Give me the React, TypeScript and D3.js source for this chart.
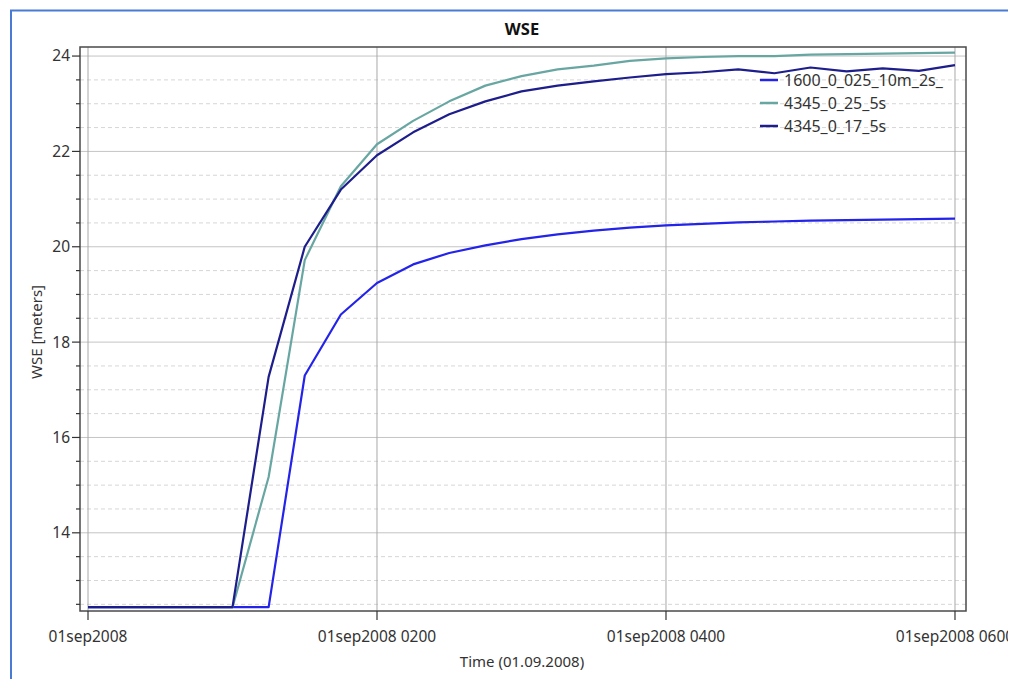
import {useEffect, useRef} from 'react';
import * as d3 from 'd3';

// time in hours after 01sep2008 00:00, 15 min steps
const timeHours = [
  0, 0.25, 0.5, 0.75, 1, 1.25, 1.5, 1.75, 2, 2.25, 2.5, 2.75, 3, 3.25, 3.5, 3.75, 4, 4.25, 4.5, 4.75, 5,
  5.25, 5.5, 5.75, 6,
];

const wse1600 = [
  12.44, 12.44, 12.44, 12.44, 12.44, 12.44, 17.3, 18.58, 19.24, 19.63, 19.87, 20.03, 20.16, 20.26, 20.34,
  20.4, 20.45, 20.48, 20.51, 20.53, 20.55, 20.56, 20.57, 20.58, 20.59,
];
const wse4345_25 = [
  12.44, 12.44, 12.44, 12.44, 12.44, 15.17, 19.72, 21.27, 22.15, 22.64, 23.05, 23.38, 23.58, 23.72, 23.8,
  23.9, 23.95, 23.98, 24.0, 24.0, 24.03, 24.04, 24.05, 24.06, 24.07,
];
const wse4345_17 = [
  12.44, 12.44, 12.44, 12.44, 12.44, 17.27, 20.0, 21.2, 21.92, 22.4, 22.78, 23.05, 23.26, 23.38, 23.47,
  23.55, 23.62, 23.66, 23.72, 23.64, 23.76, 23.68, 23.74, 23.69, 23.81,
];

const seriesNames = ['1600_0_025_10m_2s_', '4345_0_25_5s', '4345_0_17_5s'];
const seriesColors = ['#2323ea', '#68a6a2', '#1d1d8c'];

const yMajorTicks = [14, 16, 18, 20, 22, 24];
const xTicks = [0, 2, 4, 6];
const xTickLabels = ['01sep2008', '01sep2008 0200', '01sep2008 0400', '01sep2008 0600'];

const W = 1012;
const H = 679;
const plot = {left: 80, top: 47, right: 966, bottom: 611};
const FONT = '"Noto Sans", "Open Sans", sans-serif';

const App = () => {
  const ref = useRef<SVGSVGElement>(null);

  useEffect(() => {
    const svg = d3.select(ref.current);
    svg.selectAll('*').remove();

    const x = d3.scaleLinear().domain([-0.0554, 6.0762]).range([plot.left, plot.right]);
    const y = d3.scaleLinear().domain([12.36, 24.19]).range([plot.bottom, plot.top]);

    svg
      .append('defs')
      .append('clipPath')
      .attr('id', 'pageClip')
      .append('rect')
      .attr('x', 0)
      .attr('y', 0)
      .attr('width', 1008)
      .attr('height', H);

    const root = svg.append('g').attr('clip-path', 'url(#pageClip)');

    // outer frame (blue)
    root
      .append('path')
      .attr('d', `M11,${H} L11,10.5 L${W},10.5`)
      .attr('fill', 'none')
      .attr('stroke', '#4a7bd4')
      .attr('stroke-width', 2);

    // title
    root
      .append('text')
      .attr('x', 522)
      .attr('y', 35)
      .attr('text-anchor', 'middle')
      .attr('font-family', FONT)
      .attr('font-weight', 'bold')
      .attr('font-size', 16.5)
      .attr('fill', '#111')
      .text('WSE');

    const minorTicks = d3.range(12.5, 24.01, 0.5).filter((v) => v % 2 !== 0);

    // grid
    const grid = root.append('g');
    grid
      .selectAll('line.minor')
      .data(minorTicks)
      .enter()
      .append('line')
      .attr('x1', plot.left)
      .attr('x2', plot.right)
      .attr('y1', (d) => y(d))
      .attr('y2', (d) => y(d))
      .attr('stroke', '#d6d6d6')
      .attr('stroke-dasharray', '4,3');

    grid
      .selectAll('line.major')
      .data(yMajorTicks)
      .enter()
      .append('line')
      .attr('x1', plot.left)
      .attr('x2', plot.right)
      .attr('y1', (d) => y(d))
      .attr('y2', (d) => y(d))
      .attr('stroke', '#c4c4c4');

    grid
      .selectAll('line.vert')
      .data(xTicks)
      .enter()
      .append('line')
      .attr('x1', (d) => x(d))
      .attr('x2', (d) => x(d))
      .attr('y1', plot.top)
      .attr('y2', plot.bottom)
      .attr('stroke', '#a8a8a8');

    // lines
    const line = d3
      .line<number>()
      .x((_, i) => x(timeHours[i]))
      .y((d) => y(d));

    [wse1600, wse4345_25, wse4345_17].forEach((vals, i) => {
      root
        .append('path')
        .datum(vals)
        .attr('fill', 'none')
        .attr('stroke', seriesColors[i])
        .attr('stroke-width', 2.2)
        .attr('stroke-linejoin', 'round')
        .attr('d', line);
    });

    // plot border
    root
      .append('rect')
      .attr('x', plot.left)
      .attr('y', plot.top)
      .attr('width', plot.right - plot.left)
      .attr('height', plot.bottom - plot.top)
      .attr('fill', 'none')
      .attr('stroke', '#4a4a4a')
      .attr('stroke-width', 1.5);

    // y ticks
    root
      .selectAll('line.ymin')
      .data(minorTicks)
      .enter()
      .append('line')
      .attr('x1', plot.left - 4)
      .attr('x2', plot.left)
      .attr('y1', (d) => y(d))
      .attr('y2', (d) => y(d))
      .attr('stroke', '#333')
      .attr('stroke-width', 1.2);

    root
      .selectAll('line.ymaj')
      .data(yMajorTicks)
      .enter()
      .append('line')
      .attr('x1', plot.left - 8)
      .attr('x2', plot.left)
      .attr('y1', (d) => y(d))
      .attr('y2', (d) => y(d))
      .attr('stroke', '#333')
      .attr('stroke-width', 1.2);

    root
      .selectAll('text.ylab')
      .data(yMajorTicks)
      .enter()
      .append('text')
      .attr('x', plot.left - 10)
      .attr('y', (d) => y(d))
      .attr('dy', '0.35em')
      .attr('text-anchor', 'end')
      .attr('font-family', FONT)
      .attr('font-size', 15.5)
      .attr('fill', '#333')
      .text((d) => d);

    // x ticks
    root
      .selectAll('line.xmaj')
      .data(xTicks)
      .enter()
      .append('line')
      .attr('x1', (d) => x(d))
      .attr('x2', (d) => x(d))
      .attr('y1', plot.bottom)
      .attr('y2', plot.bottom + 9)
      .attr('stroke', '#333')
      .attr('stroke-width', 1.2);

    root
      .selectAll('text.xlab')
      .data(xTicks)
      .enter()
      .append('text')
      .attr('x', (d) => x(d))
      .attr('y', 642)
      .attr('text-anchor', 'middle')
      .attr('font-family', FONT)
      .attr('font-size', 15.5)
      .attr('fill', '#333')
      .text((_, i) => xTickLabels[i]);

    // axis titles
    root
      .append('text')
      .attr('x', 522)
      .attr('y', 667)
      .attr('text-anchor', 'middle')
      .attr('font-family', FONT)
      .attr('font-size', 15)
      .attr('fill', '#333')
      .text('Time (01.09.2008)');

    root
      .append('text')
      .attr('transform', `translate(42,${(plot.top + plot.bottom) / 2 + 3}) rotate(-90)`)
      .attr('text-anchor', 'middle')
      .attr('font-family', FONT)
      .attr('font-size', 15)
      .attr('fill', '#333')
      .text('WSE [meters]');

    // legend
    const legend = root.append('g');
    seriesNames.forEach((name, i) => {
      const ly = 80 + i * 23;
      legend
        .append('line')
        .attr('x1', 760)
        .attr('x2', 778)
        .attr('y1', ly)
        .attr('y2', ly)
        .attr('stroke', seriesColors[i])
        .attr('stroke-width', 2.5);
      legend
        .append('text')
        .attr('x', 784)
        .attr('y', ly)
        .attr('dy', '0.35em')
        .attr('font-family', FONT)
        .attr('font-size', 16)
        .attr('fill', '#333')
        .text(name);
    });
  }, []);

  return (
    <svg
      ref={ref}
      width={W}
      height={H}
      style={{position: 'fixed', left: 0, top: 0, background: '#fff', display: 'block'}}
    />
  );
};

export default App;
